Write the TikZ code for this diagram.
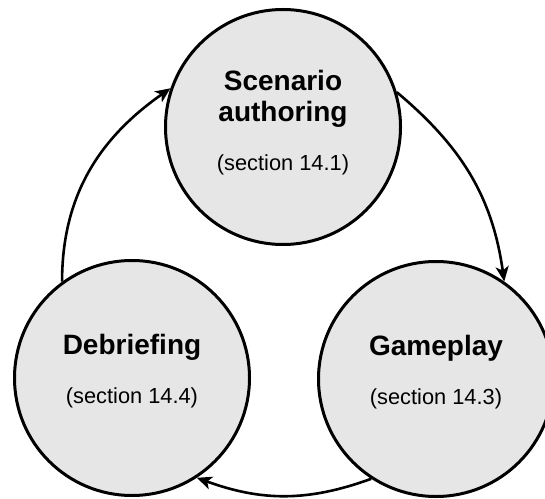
\documentclass[tikz,border=0pt]{standalone}
\usepackage{fontspec}
\setmainfont{Liberation Sans}
\usetikzlibrary{arrows.meta}
\definecolor{phasegray}{HTML}{E6E6E6}

\begin{document}
\begin{tikzpicture}[x=1pt, y=1pt,
        phase/.style={draw, circle, line width=3pt, fill=phasegray, minimum size=235pt, inner sep=0pt},
        title/.style={font=\fontsize{28}{31}\selectfont\bfseries, align=center, anchor=base},
        sec/.style={font=\fontsize{21.8}{26}\selectfont, anchor=base},
        flow/.style={line width=2.6pt, -{Stealth[length=15pt, width=13pt, inset=4pt]}}]
        \useasboundingbox (0,0) rectangle (545,498);
        \clip (0,0) rectangle (545,498);
        \node[phase] (author) at (283,371) {};
        \node[phase] (debrief) at (132,120) {};
        \node[phase] (game) at (436,119) {};
        \node[title] (author-t) at ([yshift=5pt]author.center) {Scenario\\authoring};
        \node[sec] (author-s) at ([yshift=-44pt]author.center) {(section 14.1)};
        \node[title] (debrief-t) at ([yshift=24pt]debrief.center) {Debriefing};
        \node[sec] (debrief-s) at ([yshift=-25pt]debrief.center) {(section 14.4)};
        \node[title] (game-t) at ([yshift=24pt]game.center) {Gameplay};
        \node[sec] (game-s) at ([yshift=-25pt]game.center) {(section 14.3)};
        \draw[flow] (author.17) to[out=-40, in=98] (game.55);
        \draw[flow] (game.237) to[out=200, in=-20] (debrief.303);
        \draw[flow] (debrief.126) to[out=90, in=215] (author.161);
    \end{tikzpicture}
\end{document}
